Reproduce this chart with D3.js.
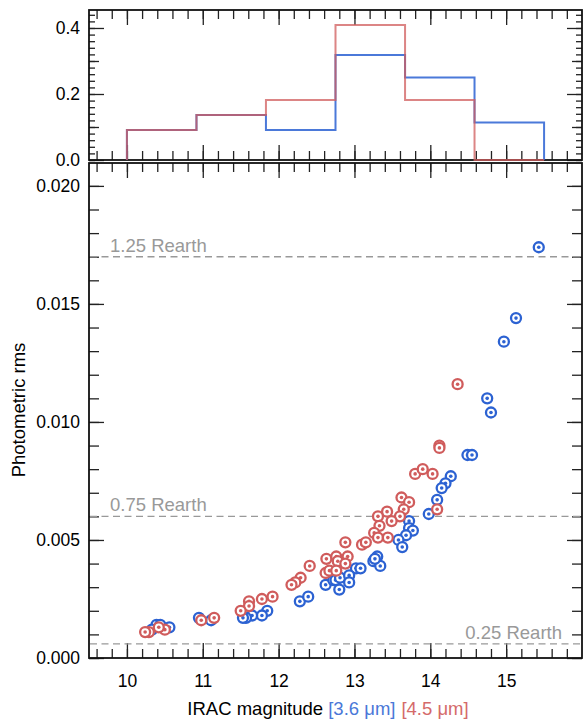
<!DOCTYPE html>
<html>
<head>
<meta charset="utf-8">
<script src="https://cdn.jsdelivr.net/npm/d3@7"></script>
<style>
    body { margin: 0; background: #fff; }
    text { font-family: "Liberation Sans", Arial, sans-serif; }
</style>
</head>
<body>
<div id="chart"></div>
<script>
//Histogram bins (fraction of targets per magnitude bin)
var binEdges = [10, 10.917, 11.833, 12.75, 13.667, 14.583, 15.5];
var histBlue = [0.091, 0.136, 0.091, 0.318, 0.25, 0.114];
var histRed = [0.091, 0.136, 0.182, 0.409, 0.182, 0];

//IRAC [3.6] magnitude vs photometric rms
var blueMag = [15.43, 15.13, 14.97, 14.75, 14.80, 14.49, 14.55, 14.27, 14.20, 14.15, 14.09, 13.98,
    13.72, 13.72, 13.77, 13.68, 13.58, 13.63, 13.30, 13.25, 13.34, 13.27, 13.02, 13.08,
    12.62, 12.72, 12.75, 12.81, 12.80, 12.93, 12.93, 12.28, 12.39, 11.85, 11.78, 11.65,
    11.57, 11.53, 11.11, 10.95, 10.39, 10.44, 10.33, 10.56];
var blueRms = [0.0174, 0.0144, 0.0134, 0.0110, 0.0104, 0.0086, 0.0086, 0.0077, 0.0074, 0.0072, 0.0067, 0.0061,
    0.0058, 0.0055, 0.0054, 0.0052, 0.0050, 0.0047, 0.0043, 0.0041, 0.0039, 0.0042, 0.0038, 0.0038,
    0.0031, 0.0033, 0.0033, 0.0034, 0.0029, 0.0035, 0.0032, 0.0024, 0.0026, 0.0020, 0.0018, 0.0018,
    0.0017, 0.0017, 0.0016, 0.0017, 0.0014, 0.0014, 0.0012, 0.0013];

//IRAC [4.5] magnitude vs photometric rms
var redMag = [14.36, 14.12, 14.12, 13.80, 13.90, 14.03, 14.09, 13.62, 13.72, 13.65, 13.60, 13.43,
    13.49, 13.31, 13.33, 13.26, 13.31, 13.44, 13.10, 13.15, 12.88, 12.63, 12.76, 12.91,
    12.78, 12.88, 12.62, 12.67, 12.76, 12.41, 12.29, 12.22, 12.17, 11.92, 11.78, 11.61,
    11.61, 11.50, 11.15, 10.98, 10.50, 10.42, 10.29, 10.24];
var redRms = [0.0116, 0.0090, 0.0089, 0.0078, 0.0080, 0.0078, 0.0063, 0.0068, 0.0066, 0.0063, 0.0060, 0.0062,
    0.0058, 0.0060, 0.0056, 0.0053, 0.0051, 0.0051, 0.0048, 0.0049, 0.0049, 0.0042, 0.0043, 0.0043,
    0.0041, 0.0040, 0.0036, 0.0037, 0.0037, 0.0039, 0.0034, 0.0032, 0.0031, 0.0026, 0.0025, 0.0024,
    0.0022, 0.0020, 0.0017, 0.0016, 0.0012, 0.0013, 0.0011, 0.0011];

//Planet size detection levels
var rearthLevels = [0.017, 0.006, 0.0006];
var rearthLabels = ["1.25 Rearth", "0.75 Rearth", "0.25 Rearth"];

var xTicks = [10, 11, 12, 13, 14, 15];
var histTicks = [0, 0.2, 0.4];
var rmsTicks = [0, 0.005, 0.01, 0.015, 0.02];

var width = 584;
var height = 721;
var blue = "#2c62d2";
var red = "#d05c5c";

var left = 89, right = 582;
var histTop = 10, histBottom = 160;
var mainTop = 163, mainBottom = 658;

var svg = d3.select("#chart").append("svg")
    .attr("width", width)
    .attr("height", height);

//Scales
var x = d3.scaleLinear().domain([9.5, 16]).range([left, right]);
var yHist = d3.scaleLinear().domain([0, 0.4545]).range([histBottom, histTop]);
var yRms = d3.scaleLinear().domain([0, 0.02097]).range([mainBottom, mainTop]);

//Minor tick helper
function range(a, b, step) {
    var out = [];
    for (var v = a; v <= b + 1e-9; v += step) out.push(+v.toFixed(4));
    return out;
}

//Draw inward ticks on all four sides of a panel
function drawTicks(yScale, top, bottom, yLevels) {
    var g = svg.append("g").attr("class", "ticks");
    var xMinor = range(9.6, 15.8, 0.2);
    var sides = [
        { axis: d3.axisBottom, pos: bottom },
        { axis: d3.axisTop, pos: top }
    ];
    sides.forEach(function(s) {
        g.append("g")
            .attr("transform", "translate(0," + s.pos + ")")
            .call(s.axis(x).tickValues(xMinor).tickSize(-9).tickFormat(""));
        g.append("g")
            .attr("transform", "translate(0," + s.pos + ")")
            .call(s.axis(x).tickValues(xTicks).tickSize(-15).tickFormat(""));
    });
    yLevels.forEach(function(l) {
        g.append("g")
            .attr("transform", "translate(" + left + ",0)")
            .call(d3.axisLeft(yScale).tickValues(l.values).tickSize(-l.size).tickFormat(""));
        g.append("g")
            .attr("transform", "translate(" + right + ",0)")
            .call(d3.axisRight(yScale).tickValues(l.values).tickSize(-l.size).tickFormat(""));
    });
    g.selectAll(".domain").remove();
    g.selectAll("line").attr("stroke", "#222").attr("stroke-width", 1.3);
}

//Histogram panel ticks
drawTicks(yHist, histTop, histBottom, [
    { values: range(0, 0.44, 0.02), size: 6 },
    { values: [0.1, 0.3], size: 10 },
    { values: histTicks, size: 15 }
]);

//Main panel ticks
drawTicks(yRms, mainTop, mainBottom, [
    { values: range(0, 0.02, 0.001), size: 10 },
    { values: rmsTicks, size: 15 }
]);

//Tick labels
var labelFont = 17.5;
svg.append("g")
    .attr("transform", "translate(" + left + ",0)")
    .call(d3.axisLeft(yHist).tickValues(histTicks).tickSize(0).tickPadding(9).tickFormat(d3.format(".1f")))
    .call(function(g) { g.select(".domain").remove(); })
    .selectAll("text").style("font-size", labelFont + "px").attr("fill", "#000");

svg.append("g")
    .attr("transform", "translate(" + left + ",0)")
    .call(d3.axisLeft(yRms).tickValues(rmsTicks).tickSize(0).tickPadding(9).tickFormat(d3.format(".3f")))
    .call(function(g) { g.select(".domain").remove(); })
    .selectAll("text").style("font-size", labelFont + "px").attr("fill", "#000");

svg.append("g")
    .attr("transform", "translate(0," + mainBottom + ")")
    .call(d3.axisBottom(x).tickValues(xTicks).tickSize(0).tickPadding(17).tickFormat(d3.format("d")))
    .call(function(g) { g.select(".domain").remove(); })
    .selectAll("text").style("font-size", labelFont + "px").attr("fill", "#000");

//Panel frames
[[histTop, histBottom], [mainTop, mainBottom]].forEach(function(p) {
    svg.append("rect")
        .attr("x", left)
        .attr("y", p[0])
        .attr("width", right - left)
        .attr("height", p[1] - p[0])
        .attr("fill", "none")
        .attr("stroke", "#111")
        .attr("stroke-width", 1.8);
});

//Step histograms
function stepPoints(vals) {
    var pts = [[binEdges[0], 0]];
    vals.forEach(function(v, i) {
        pts.push([binEdges[i], v]);
        pts.push([binEdges[i + 1], v]);
    });
    pts.push([binEdges[binEdges.length - 1], 0]);
    return pts;
}
var histLine = d3.line()
    .x(function(d) { return x(d[0]); })
    .y(function(d) { return yHist(d[1]); });

svg.append("path")
    .attr("d", histLine(stepPoints(histBlue)))
    .attr("fill", "none")
    .attr("stroke", blue)
    .attr("stroke-opacity", 0.85)
    .attr("stroke-width", 2);
svg.append("path")
    .attr("d", histLine(stepPoints(histRed)))
    .attr("fill", "none")
    .attr("stroke", red)
    .attr("stroke-opacity", 0.75)
    .attr("stroke-width", 2);

//Rearth dashed levels
svg.selectAll(".level").data(rearthLevels).enter()
    .append("line")
    .attr("class", "level")
    .attr("x1", left + 1)
    .attr("x2", right - 1)
    .attr("y1", function(d) { return yRms(d); })
    .attr("y2", function(d) { return yRms(d); })
    .attr("stroke", "#999")
    .attr("stroke-width", 1.4)
    .attr("stroke-dasharray", "7,4.5");

svg.selectAll(".levelLabel").data(rearthLevels).enter()
    .append("text")
    .attr("class", "levelLabel")
    .attr("x", function(d, i) { return i === 2 ? 562 : 110; })
    .attr("y", function(d) { return yRms(d) - 5; })
    .attr("text-anchor", function(d, i) { return i === 2 ? "end" : "start"; })
    .attr("fill", "#999")
    .style("font-size", "18.5px")
    .text(function(d, i) { return rearthLabels[i]; });

//Target markers: ring with centre dot
function drawMarkers(mags, rms, color) {
    var node = svg.append("g").selectAll("g").data(mags).enter()
        .append("g")
        .attr("transform", function(d, i) {
            return "translate(" + x(d) + "," + yRms(rms[i]) + ")";
        });
    node.append("circle")
        .attr("r", 5)
        .attr("fill", "#fff")
        .attr("stroke", color)
        .attr("stroke-width", 2.3);
    node.append("circle")
        .attr("r", 1.8)
        .attr("fill", color);
}
drawMarkers(blueMag, blueRms, blue);
drawMarkers(redMag, redRms, red);

//Axis titles
svg.append("text")
    .attr("transform", "translate(25,410) rotate(-90)")
    .attr("text-anchor", "middle")
    .style("font-size", "18.5px")
    .attr("fill", "#000")
    .text("Photometric rms");

var xTitle = svg.append("text")
    .attr("x", 328)
    .attr("y", 715)
    .attr("text-anchor", "middle")
    .style("font-size", "18.5px")
    .attr("fill", "#000");
xTitle.append("tspan").text("IRAC magnitude ");
xTitle.append("tspan").attr("fill", "#4a78d8").text("[3.6 \u03bcm]");
xTitle.append("tspan").attr("dx", 6).attr("fill", "#d46a6a").text("[4.5 \u03bcm]");
</script>
</body>
</html>
